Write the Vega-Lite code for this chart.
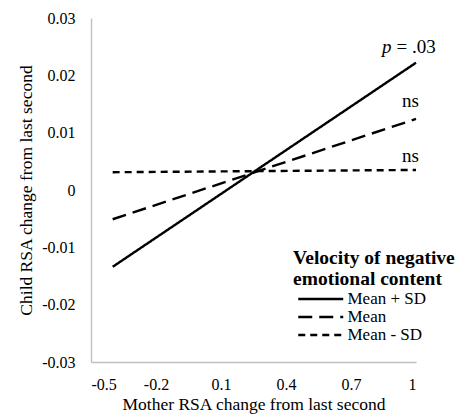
{
  "$schema": "https://vega.github.io/schema/vega-lite/v6.json",
  "width": 325,
  "height": 344,
  "autosize": {"type": "none"},
  "padding": {"left": 91, "top": 18, "right": 54, "bottom": 56},
  "background": "white",
  "config": {
    "view": {"stroke": null},
    "font": "Liberation Serif",
    "axis": {
      "grid": false,
      "ticks": false,
      "tickSize": 0,
      "domainColor": "#c0c0c0",
      "domainWidth": 1.4,
      "labelFont": "Liberation Serif",
      "labelFontSize": 16,
      "labelColor": "black",
      "titleFont": "Liberation Serif",
      "titleFontSize": 17.5,
      "titleFontWeight": "normal",
      "titleColor": "black"
    }
  },
  "datasets": {
    "lines": [
      {"group": "Mean + SD", "x": -0.4, "y": -0.0134},
      {"group": "Mean + SD", "x": 1.0, "y": 0.0222},
      {"group": "Mean", "x": -0.4, "y": -0.0051},
      {"group": "Mean", "x": 1.0, "y": 0.0124},
      {"group": "Mean - SD", "x": -0.4, "y": 0.0031},
      {"group": "Mean - SD", "x": 1.0, "y": 0.0035}
    ],
    "notes": [
      {"x": 0.843, "y": 0.0239, "label": "p", "italic": true},
      {"x": 0.91, "y": 0.0239, "label": "= .03", "italic": false},
      {"x": 0.935, "y": 0.0145, "label": "ns", "italic": false},
      {"x": 0.935, "y": 0.0049, "label": "ns", "italic": false}
    ]
  },
  "layer": [
    {
      "data": {"name": "lines"},
      "mark": {"type": "line", "color": "black", "strokeWidth": 2.4},
      "encoding": {
        "x": {
          "field": "x",
          "type": "quantitative",
          "scale": {"domain": [-0.5, 1], "nice": false, "zero": false},
          "axis": {
            "values": [-0.5, -0.2, 0.1, 0.4, 0.7, 1],
            "format": ".1~f",
            "labelExpr": "replace(datum.label, '\u2212', '-')",
            "labelPadding": 14,
            "title": "Mother RSA change from last second",
            "titlePadding": 3
          }
        },
        "y": {
          "field": "y",
          "type": "quantitative",
          "scale": {"domain": [-0.03, 0.03], "nice": false, "zero": false},
          "axis": {
            "values": [-0.03, -0.02, -0.01, 0, 0.01, 0.02, 0.03],
            "format": ".2~f",
            "labelExpr": "replace(datum.label, '\u2212', '-')",
            "labelPadding": 16,
            "title": "Child RSA change from last second",
            "titlePadding": 6
          }
        },
        "detail": {"field": "group"},
        "strokeDash": {
          "field": "group",
          "type": "nominal",
          "scale": {
            "domain": ["Mean + SD", "Mean", "Mean - SD"],
            "range": [[1, 0], [14, 7], [7, 5]]
          },
          "legend": {
            "orient": "none",
            "legendX": 202,
            "legendY": 231,
            "title": ["Velocity of negative", "emotional content"],
            "titleFont": "Liberation Serif",
            "titleFontSize": 19.5,
            "titleFontWeight": "bold",
            "titleColor": "black",
            "titleLineHeight": 21,
            "titleLimit": 400,
            "titlePadding": 0,
            "labelFont": "Liberation Serif",
            "labelFontSize": 17,
            "labelColor": "black",
            "labelOffset": 35.5,
            "labelLimit": 300,
            "symbolType": "M-0.515,0H4.94",
            "symbolSize": 272,
            "symbolStrokeWidth": 2.4,
            "symbolStrokeColor": "black",
            "symbolFillColor": "transparent",
            "rowPadding": 0,
            "padding": 0
          }
        }
      }
    },
    {
      "data": {"name": "notes"},
      "transform": [{"filter": "datum.italic"}],
      "mark": {"type": "text", "align": "left", "baseline": "alphabetic", "fontSize": 19, "fontStyle": "italic", "font": "Liberation Serif", "color": "black"},
      "encoding": {
        "x": {"field": "x", "type": "quantitative"},
        "y": {"field": "y", "type": "quantitative"},
        "text": {"field": "label"}
      }
    },
    {
      "data": {"name": "notes"},
      "transform": [{"filter": "!datum.italic"}],
      "mark": {"type": "text", "align": "left", "baseline": "alphabetic", "fontSize": 19, "font": "Liberation Serif", "color": "black"},
      "encoding": {
        "x": {"field": "x", "type": "quantitative"},
        "y": {"field": "y", "type": "quantitative"},
        "text": {"field": "label"}
      }
    }
  ]
}
